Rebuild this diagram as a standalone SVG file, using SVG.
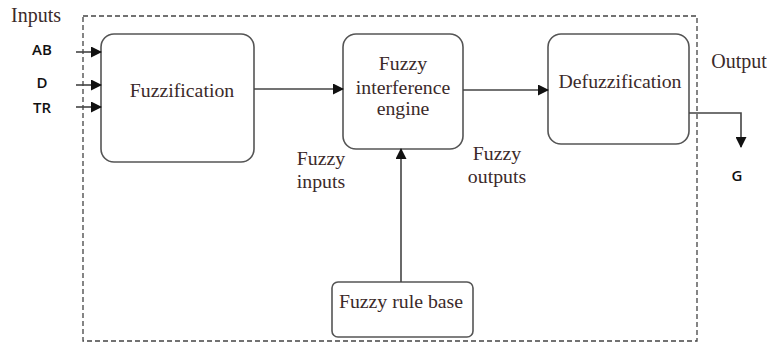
<svg xmlns="http://www.w3.org/2000/svg" width="767" height="346" viewBox="0 0 767 346">
<style>
.box{fill:#fff;stroke:#555;stroke-width:1.6}
.t{font-family:"Liberation Serif","Times New Roman",serif;font-size:19.8px;fill:#3b2a2a;text-anchor:middle}
.s{font-family:"Open Sans","Liberation Sans",sans-serif;font-size:15px;font-weight:600;fill:#111;text-anchor:middle}
.ln{stroke:#444;stroke-width:1.6;fill:none}
.dash{stroke:#444;stroke-width:1.3;fill:none;stroke-dasharray:5,3}
</style>
<defs>
<marker id="ah" markerWidth="11" markerHeight="11" refX="10" refY="5.5" orient="auto" markerUnits="userSpaceOnUse">
<path d="M0,0 L11,5.5 L0,11 Z" fill="#111"/>
</marker>
</defs>
<rect width="767" height="346" fill="#fff"/>
<rect class="dash" x="83" y="16" width="614" height="325"/>
<text class="t" x="36" y="22" style="font-size:20px">Inputs</text>
<text class="t" x="739" y="68" style="font-size:20px">Output</text>
<g id="in-labels">
<text class="s" x="42" y="55">AB</text>
<text class="s" x="42" y="88">D</text>
<text class="s" x="42" y="113">TR</text>
<text class="s" x="737" y="181">G</text>
</g>
<g id="fuzzification">
<rect class="box" x="101" y="34" width="153" height="128" rx="13"/>
<text class="t" x="182" y="97">Fuzzification</text>
</g>
<g id="engine">
<rect class="box" x="343" y="34" width="120" height="115" rx="13"/>
<text class="t" x="403" y="70">Fuzzy</text>
<text class="t" x="403" y="94">interference</text>
<text class="t" x="403" y="115">engine</text>
</g>
<g id="defuzzification">
<rect class="box" x="548" y="34" width="141" height="110" rx="13"/>
<text class="t" x="620" y="88">Defuzzification</text>
</g>
<g id="rulebase">
<rect class="box" x="332" y="282" width="141" height="55" rx="6"/>
<text class="t" x="401" y="308">Fuzzy rule base</text>
</g>
<g id="labels">
<text class="t" x="321" y="165">Fuzzy</text>
<text class="t" x="321" y="188">inputs</text>
<text class="t" x="497" y="160">Fuzzy</text>
<text class="t" x="497" y="183">outputs</text>
</g>
<g id="connectors">
<line class="ln" x1="76" y1="52" x2="101" y2="52" marker-end="url(#ah)"/>
<line class="ln" x1="76" y1="85" x2="101" y2="85" marker-end="url(#ah)"/>
<line class="ln" x1="76" y1="107" x2="101" y2="107" marker-end="url(#ah)"/>
<line class="ln" x1="254" y1="89" x2="343" y2="89" marker-end="url(#ah)"/>
<line class="ln" x1="463" y1="90" x2="548" y2="90" marker-end="url(#ah)"/>
<line class="ln" x1="401" y1="282" x2="401" y2="149" marker-end="url(#ah)"/>
<polyline class="ln" points="689,113 741,113 741,147" marker-end="url(#ah)"/>
</g>
</svg>
